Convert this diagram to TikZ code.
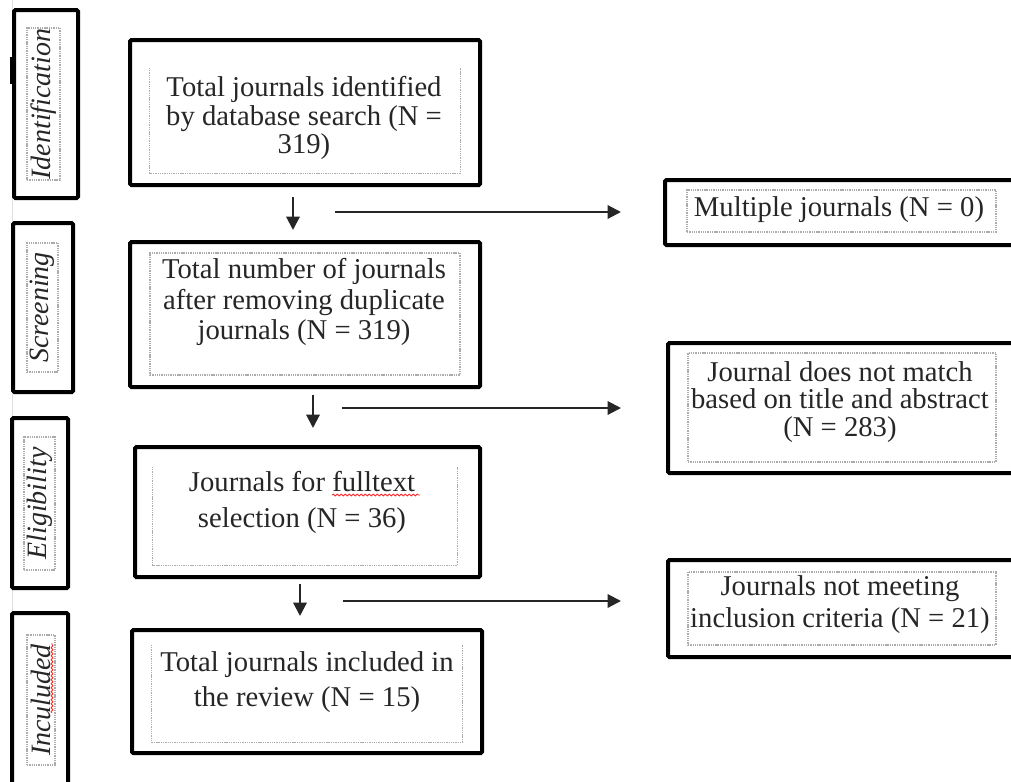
\documentclass[tikz,border=0pt]{standalone}
\usepackage{fontspec}
\setmainfont{Liberation Serif}
\usetikzlibrary{fit,arrows.meta,decorations.pathmorphing}
\begin{document}
\begin{tikzpicture}[x=0.75pt,y=-0.75pt,
  outerbox/.style={draw=black, line width=3pt, rounded corners=1pt, inner sep=0pt},
  innerline/.style={draw=gray!65, line width=0.8pt, dash pattern=on 1pt off 0.7pt},
  innerbox/.style={innerline, inner sep=0pt},
  openbox/.style={inner sep=0pt},
  txt/.style={align=center, text=black!85, inner sep=0pt, font=\fontsize{21.5}{#1}\selectfont},
  lbl/.style={rotate=90, text=black!85, inner sep=0pt, font=\fontsize{21}{21}\selectfont\itshape},
  arr/.style={line width=1.5pt, draw=black!85, -{Triangle[width=10pt,length=10pt]}},
  squiggle/.style={draw=red!85, line width=0.6pt, decorate, decoration={snake, amplitude=0.7pt, segment length=3pt}}]
\useasboundingbox (0,0) rectangle (1011,782);
\fill[white] (0,0) rectangle (1011,782);
% faint margin line and mark
\draw[gray!25, line width=0.75pt] (12,0) -- (12,782);
\fill[black] (10,57) rectangle (13,84);

% stage labels
\node[outerbox, fit={(14,10) (78,198)}] (lid) {};
\node[innerbox, fit={(27,28) (60,180)}] (iid) {};
\node[lbl] (tid) at (iid.center) {Identification};

\node[outerbox, fit={(13,223) (73,392)}] (lsc) {};
\node[innerbox, fit={(27,243) (58,372)}] (isc) {};
\node[lbl] (tsc) at (isc.center) {Screening};

\node[outerbox, fit={(12,418) (68,588)}] (lel) {};
\node[innerbox, fit={(24,437) (55,570)}] (iel) {};
\node[lbl] (tel) at (iel.center) {Eligibility};

\node[outerbox, fit={(12,613) (68,800)}] (lin) {};
\node[innerbox, fit={(27,635) (55,765)}] (iin) {};
\node[lbl] (tin) at (iin.center) {Inculuded};

% main column
\node[outerbox, fit={(130,40) (480,185)}] (b1) {};
\node[openbox, fit={(150,68) (460,173)}] (i1) {};
\draw[innerline] (i1.north west) -- (i1.south west) -- (i1.south east) -- (i1.north east);
\node[txt=21.4pt] (t1) at (304,118) {Total journals identified\\by database search (N =\\319)};

\node[outerbox, fit={(130,242) (480,387)}] (b2) {};
\node[innerbox, fit={(150,253) (460,375)}] (i2) {};
\node[txt=23pt] (t2) at (304,302) {Total number of journals\\after removing duplicate\\journals (N = 319)};

\node[outerbox, fit={(135,447) (480,577)}] (b3) {};
\node[openbox, fit={(153,467) (457,565)}] (i3) {};
\draw[innerline] (i3.north west) -- (i3.south west) -- (i3.south east) -- (i3.north east);
\node[txt=27pt] (t3) at (302,502) {Journals for fulltext\\selection (N = 36)};

\node[outerbox, fit={(132,630) (482,753)}] (b4) {};
\node[openbox, fit={(152,645) (462,742)}] (i4) {};
\draw[innerline] (i4.north west) -- (i4.south west) -- (i4.south east) -- (i4.north east);
\node[txt=26pt] (t4) at (307,682) {Total journals included in\\the review (N = 15)};

% right column
\node[outerbox, fit={(665,180) (1025,245)}] (r1) {};
\node[innerbox, fit={(687,190) (996,232)}] (j1) {};
\node[txt=21pt] (s1) at (839,210) {Multiple journals (N = 0)};

\node[outerbox, fit={(668,343) (1025,473)}] (r2) {};
\node[innerbox, fit={(688,353) (996,462)}] (j2) {};
\node[txt=20.6pt] (s2) at (840,402) {Journal does not match\\based on title and abstract\\(N = 283)};

\node[outerbox, fit={(668,560) (1025,657)}] (r3) {};
\node[innerbox, fit={(688,572) (996,645)}] (j3) {};
\node[txt=24pt] (s3) at (840,605) {Journals not meeting\\inclusion criteria (N = 21)};

% connectors
\coordinate (a1s) at (293,197); \coordinate (a1e) at (293,230);
\coordinate (a2s) at (313,395); \coordinate (a2e) at (313,428);
\coordinate (a3s) at (300,584); \coordinate (a3e) at (300,616);
\draw[arr] (a1s) -- (a1e);
\draw[arr] (a2s) -- (a2e);
\draw[arr] (a3s) -- (a3e);

\coordinate (h1s) at (335,212); \coordinate (h1e) at (621,212);
\coordinate (h2s) at (342,408); \coordinate (h2e) at (621,408);
\coordinate (h3s) at (343,601); \coordinate (h3e) at (621,601);
\draw[arr] (h1s) -- (h1e);
\draw[arr] (h2s) -- (h2e);
\draw[arr] (h3s) -- (h3e);

% spell-check underlines
\draw[squiggle] (332,495) -- (420,495);
\draw[squiggle] (52,713) -- (52,643);
\end{tikzpicture}
\end{document}
